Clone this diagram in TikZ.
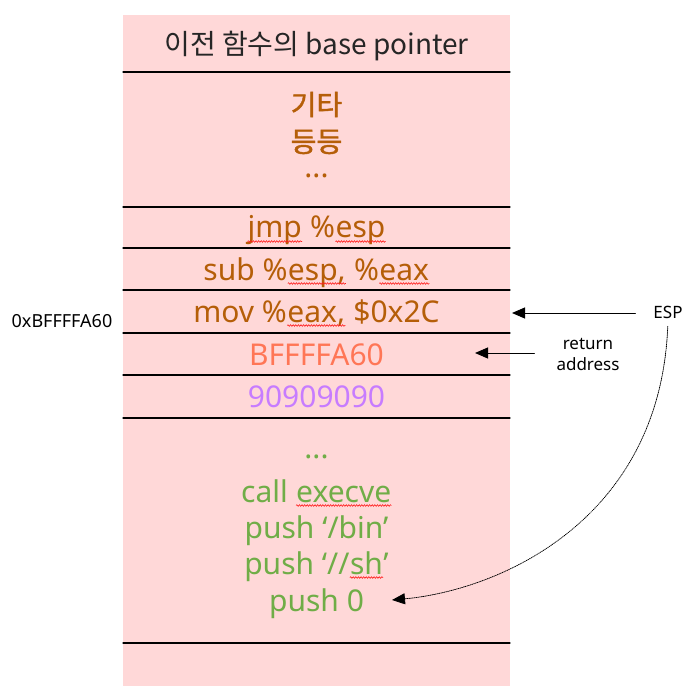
\documentclass[tikz,border=0pt]{standalone}
\usepackage{fontspec}
\setmainfont{Noto Sans}
\newfontfamily\kr{Noto Sans CJK KR}
\newfontfamily\krmed[FakeBold=1.4]{Noto Sans CJK KR}
\usepackage{xcolor}
\usetikzlibrary{arrows.meta,decorations.pathmorphing}

\definecolor{stackpink}{HTML}{FFD8D8}
\definecolor{codeorange}{HTML}{B55E08}
\definecolor{addrsalmon}{HTML}{FF7656}
\definecolor{noppurple}{HTML}{C77CFF}
\definecolor{shellgreen}{HTML}{70AD47}

% red spell-check squiggle under a word
\newcommand\typo[1]{\tikz[baseline=(w.base)]{\node[inner sep=0pt,anchor=base] (w) {#1};
  \draw[red!90,line width=0.6pt,decorate,decoration={snake,amplitude=0.8pt,segment length=2.6pt}]
    ([yshift=-3.5pt]w.base west) -- ([yshift=-3.5pt]w.base east);}}

\tikzset{
  cell/.style={anchor=base,inner sep=0pt,font=\fontsize{30}{36}\selectfont},
  side/.style={anchor=base,inner sep=2pt,font=\fontsize{17}{21}\selectfont,align=center}
}

\begin{document}
\begin{tikzpicture}[x=1pt,y=-1pt,>={Triangle[length=13pt,width=11pt]},line cap=round]
\useasboundingbox (0,0) rectangle (690,700);
% the stack
\fill[stackpink] (123,15) rectangle (510,686);
\foreach \y in {72,207,248,290,333,375,418,643}
  \draw[line width=1.1pt] (123,\y) -- (510,\y);

\node[cell,font=\kr\fontsize{28}{32}\selectfont,text=black!85] (oldbp) at (316.5,55) {이전 함수의 base pointer};
\node[cell,font=\krmed\fontsize{28}{32}\selectfont,text=codeorange] (etc1) at (316.5,115) {기타};
\node[cell,font=\krmed\fontsize{28}{32}\selectfont,text=codeorange] (etc2) at (316.5,152) {등등};
\node[cell,text=codeorange] (etc3) at (316.5,178) {...};

\node[cell,text=codeorange] (jmp) at (316.5,238) {\typo{jmp} \%\typo{esp}};
\node[cell,text=codeorange] (sub) at (316.5,280) {sub \%\typo{esp,} \%\typo{eax}};
\node[cell,text=codeorange] (mov) at (316.5,322) {mov \%\typo{eax,} \$0x2C};
\node[cell,text=addrsalmon] (ret) at (316.5,365) {BFFFFA60};
\node[cell,text=noppurple] (nop) at (316.5,407) {90909090};

\node[cell,text=shellgreen] (dots) at (316.5,458) {...};
\node[cell,text=shellgreen] (call) at (316.5,502) {call \typo{execve}};
\node[cell,text=shellgreen] (bin) at (316.5,538) {push ‘/bin’};
\node[cell,text=shellgreen] (sh) at (316.5,574) {push ‘//\typo{sh}’};
\node[cell,text=shellgreen] (pushz) at (316.5,611) {push 0};

% labels beside the stack
\node[side,font=\fontsize{18}{22}\selectfont] (addr) at (62,327) {0xBFFFFA60};
\node[side] (esp) at (668,318) {ESP};
\node[side] (retlbl) at (588,370) {return\\address};

\coordinate (espTip) at (512,313);
\coordinate (retTip) at (475,353);
\coordinate (pushTip) at (392,600);

\draw[->,line width=1pt,shorten <=16pt] (esp.west |- espTip) -- (espTip);
\draw[->,line width=1pt,shorten <=20pt] (retlbl.west |- retTip) -- (retTip);
\draw[->,line width=0.8pt,densely dotted,shorten <=6pt] (esp.south) .. controls (660,520) and (500,590) .. (pushTip);
\end{tikzpicture}
\end{document}
